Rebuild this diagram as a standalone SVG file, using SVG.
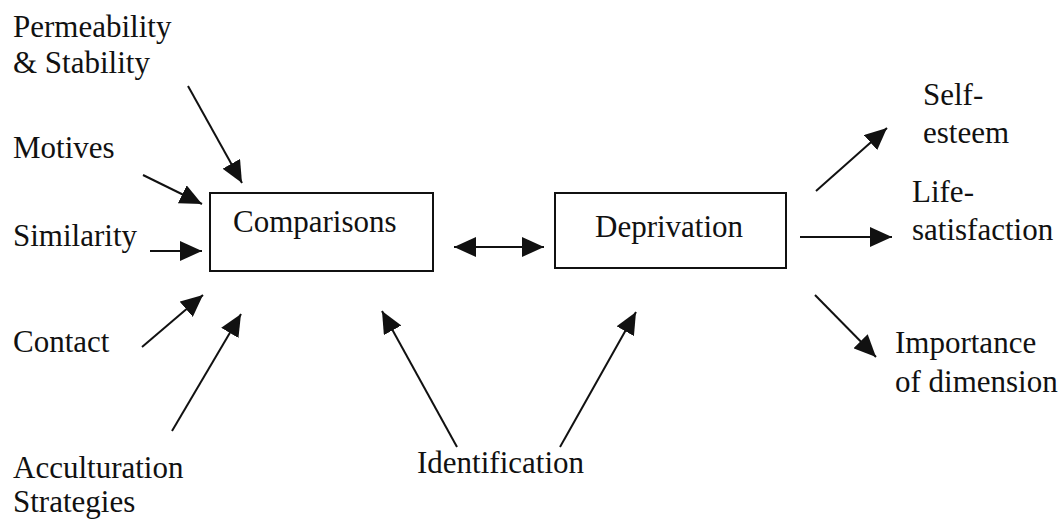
<svg xmlns="http://www.w3.org/2000/svg" width="1064" height="521" viewBox="0 0 1064 521">
  <defs>
    <marker id="ah" viewBox="0 0 22 20" refX="22" refY="10" markerWidth="22" markerHeight="20" markerUnits="userSpaceOnUse" orient="auto-start-reverse">
      <path d="M0,0 L22,10 L0,20 z" fill="#111"/>
    </marker>
  </defs>
  <rect width="1064" height="521" fill="#fff"/>

  <g id="connectors" stroke="#111" stroke-width="2" fill="none" marker-end="url(#ah)">
    <line x1="188" y1="86" x2="242" y2="183"/>
    <line x1="143" y1="175" x2="202" y2="204"/>
    <line x1="150" y1="251" x2="202" y2="251"/>
    <line x1="142" y1="347" x2="203" y2="295"/>
    <line x1="172" y1="431" x2="241" y2="314"/>
    <line x1="457" y1="447" x2="382" y2="311"/>
    <line x1="560" y1="447" x2="636" y2="312"/>
    <line x1="454" y1="247" x2="544" y2="247" marker-start="url(#ah)"/>
    <line x1="816" y1="191" x2="887" y2="128"/>
    <line x1="800" y1="237" x2="892" y2="237"/>
    <line x1="815" y1="295" x2="876" y2="357"/>
  </g>

  <g font-family="Liberation Serif" font-size="31" fill="#111">
    <g id="comparisons">
      <rect x="210" y="193" width="223" height="78" fill="#fff" stroke="#111" stroke-width="2"/>
      <text x="233" y="232">Comparisons</text>
    </g>
    <g id="deprivation">
      <rect x="555" y="193" width="231" height="75" fill="#fff" stroke="#111" stroke-width="2"/>
      <text x="595" y="237">Deprivation</text>
    </g>
    <g id="permeability">
      <text x="13" y="37">Permeability</text>
      <text x="13" y="73">&amp; Stability</text>
    </g>
    <g id="motives"><text x="13" y="158">Motives</text></g>
    <g id="similarity"><text x="13" y="246">Similarity</text></g>
    <g id="contact"><text x="13" y="352">Contact</text></g>
    <g id="acculturation">
      <text x="13" y="478">Acculturation</text>
      <text x="13" y="512">Strategies</text>
    </g>
    <g id="identification"><text x="417" y="473">Identification</text></g>
    <g id="self-esteem">
      <text x="923" y="105">Self-</text>
      <text x="923" y="143">esteem</text>
    </g>
    <g id="life-satisfaction">
      <text x="912" y="202">Life-</text>
      <text x="912" y="240">satisfaction</text>
    </g>
    <g id="importance">
      <text x="895" y="353">Importance</text>
      <text x="895" y="392">of dimension</text>
    </g>
  </g>
</svg>
